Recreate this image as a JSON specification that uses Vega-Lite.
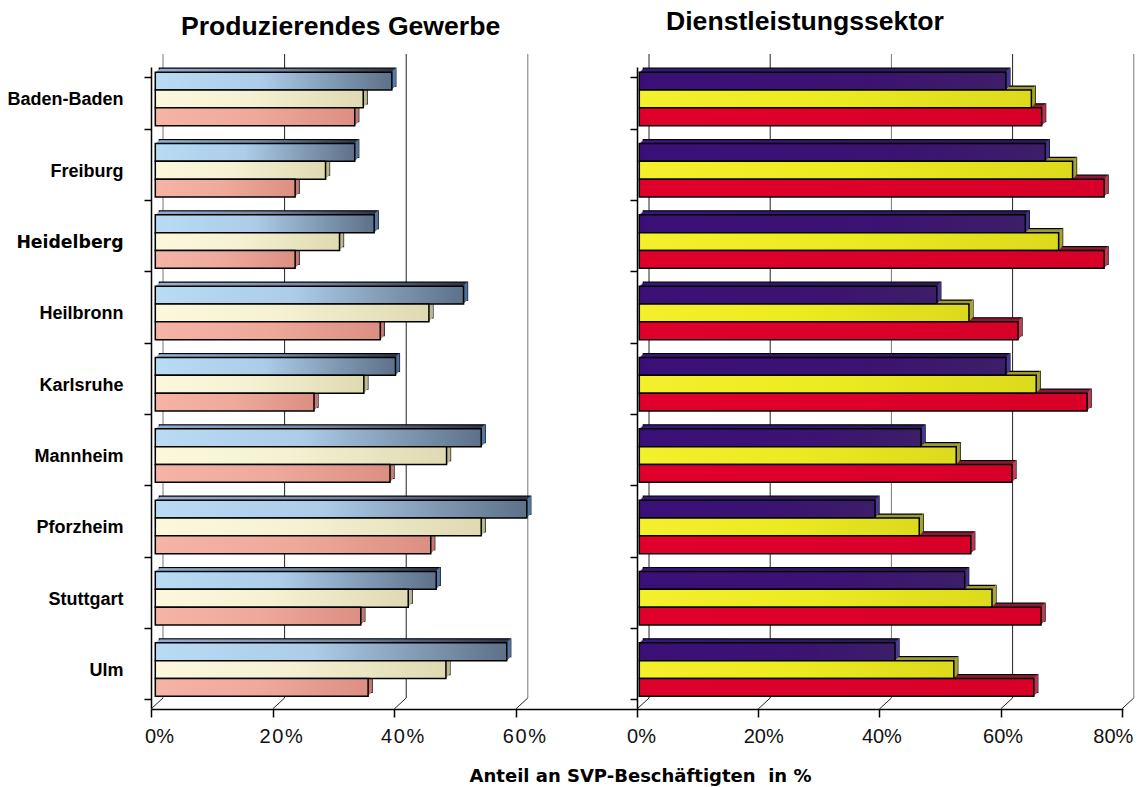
{
"$schema":"https://vega.github.io/schema/vega-lite/v6.json",
"background":"white",
"padding":{"left":6,"top":8,"right":5,"bottom":5},
"bounds":"flush",
"spacing":0,
"config":{"view":{"stroke":null},"font":"Liberation Sans"},
"datasets":{
"produzierend":[
{"stadt":"Baden-Baden","reihe":"A","zeile":"Baden-Baden A","anteil":38.9},{"stadt":"Baden-Baden","reihe":"B","zeile":"Baden-Baden B","anteil":34.2},{"stadt":"Baden-Baden","reihe":"C","zeile":"Baden-Baden C","anteil":32.8},
{"stadt":"Freiburg","reihe":"A","zeile":"Freiburg A","anteil":32.8},{"stadt":"Freiburg","reihe":"B","zeile":"Freiburg B","anteil":28.0},{"stadt":"Freiburg","reihe":"C","zeile":"Freiburg C","anteil":23.0},
{"stadt":"Heidelberg","reihe":"A","zeile":"Heidelberg A","anteil":36.0},{"stadt":"Heidelberg","reihe":"B","zeile":"Heidelberg B","anteil":30.3},{"stadt":"Heidelberg","reihe":"C","zeile":"Heidelberg C","anteil":23.0},
{"stadt":"Heilbronn","reihe":"A","zeile":"Heilbronn A","anteil":50.7},{"stadt":"Heilbronn","reihe":"B","zeile":"Heilbronn B","anteil":45.0},{"stadt":"Heilbronn","reihe":"C","zeile":"Heilbronn C","anteil":37.0},
{"stadt":"Karlsruhe","reihe":"A","zeile":"Karlsruhe A","anteil":39.5},{"stadt":"Karlsruhe","reihe":"B","zeile":"Karlsruhe B","anteil":34.3},{"stadt":"Karlsruhe","reihe":"C","zeile":"Karlsruhe C","anteil":26.1},
{"stadt":"Mannheim","reihe":"A","zeile":"Mannheim A","anteil":53.6},{"stadt":"Mannheim","reihe":"B","zeile":"Mannheim B","anteil":47.9},{"stadt":"Mannheim","reihe":"C","zeile":"Mannheim C","anteil":38.6},
{"stadt":"Pforzheim","reihe":"A","zeile":"Pforzheim A","anteil":61.1},{"stadt":"Pforzheim","reihe":"B","zeile":"Pforzheim B","anteil":53.6},{"stadt":"Pforzheim","reihe":"C","zeile":"Pforzheim C","anteil":45.3},
{"stadt":"Stuttgart","reihe":"A","zeile":"Stuttgart A","anteil":46.2},{"stadt":"Stuttgart","reihe":"B","zeile":"Stuttgart B","anteil":41.6},{"stadt":"Stuttgart","reihe":"C","zeile":"Stuttgart C","anteil":33.8},
{"stadt":"Ulm","reihe":"A","zeile":"Ulm A","anteil":57.8},{"stadt":"Ulm","reihe":"B","zeile":"Ulm B","anteil":47.8},{"stadt":"Ulm","reihe":"C","zeile":"Ulm C","anteil":35.0}],
"dienstleistung":[
{"stadt":"Baden-Baden","reihe":"A","zeile":"Baden-Baden A","anteil":60.5},{"stadt":"Baden-Baden","reihe":"B","zeile":"Baden-Baden B","anteil":64.7},{"stadt":"Baden-Baden","reihe":"C","zeile":"Baden-Baden C","anteil":66.4},
{"stadt":"Freiburg","reihe":"A","zeile":"Freiburg A","anteil":67.0},{"stadt":"Freiburg","reihe":"B","zeile":"Freiburg B","anteil":71.5},{"stadt":"Freiburg","reihe":"C","zeile":"Freiburg C","anteil":76.7},
{"stadt":"Heidelberg","reihe":"A","zeile":"Heidelberg A","anteil":63.7},{"stadt":"Heidelberg","reihe":"B","zeile":"Heidelberg B","anteil":69.2},{"stadt":"Heidelberg","reihe":"C","zeile":"Heidelberg C","anteil":76.7},
{"stadt":"Heilbronn","reihe":"A","zeile":"Heilbronn A","anteil":49.1},{"stadt":"Heilbronn","reihe":"B","zeile":"Heilbronn B","anteil":54.4},{"stadt":"Heilbronn","reihe":"C","zeile":"Heilbronn C","anteil":62.5},
{"stadt":"Karlsruhe","reihe":"A","zeile":"Karlsruhe A","anteil":60.5},{"stadt":"Karlsruhe","reihe":"B","zeile":"Karlsruhe B","anteil":65.5},{"stadt":"Karlsruhe","reihe":"C","zeile":"Karlsruhe C","anteil":73.9},
{"stadt":"Mannheim","reihe":"A","zeile":"Mannheim A","anteil":46.5},{"stadt":"Mannheim","reihe":"B","zeile":"Mannheim B","anteil":52.3},{"stadt":"Mannheim","reihe":"C","zeile":"Mannheim C","anteil":61.5},
{"stadt":"Pforzheim","reihe":"A","zeile":"Pforzheim A","anteil":38.9},{"stadt":"Pforzheim","reihe":"B","zeile":"Pforzheim B","anteil":46.2},{"stadt":"Pforzheim","reihe":"C","zeile":"Pforzheim C","anteil":54.7},
{"stadt":"Stuttgart","reihe":"A","zeile":"Stuttgart A","anteil":53.7},{"stadt":"Stuttgart","reihe":"B","zeile":"Stuttgart B","anteil":58.2},{"stadt":"Stuttgart","reihe":"C","zeile":"Stuttgart C","anteil":66.3},
{"stadt":"Ulm","reihe":"A","zeile":"Ulm A","anteil":42.2},{"stadt":"Ulm","reihe":"B","zeile":"Ulm B","anteil":51.9},{"stadt":"Ulm","reihe":"C","zeile":"Ulm C","anteil":65.1}],
"raster_links":[{"anteil":0},{"anteil":20},{"anteil":40},{"anteil":60}],
"raster_rechts":[{"anteil":0},{"anteil":20},{"anteil":40},{"anteil":60},{"anteil":80}]
},
"hconcat":[
{
"width":486,"height":642,
"title":{"text":"Produzierendes Gewerbe","anchor":"start","frame":"group","dx":30,"offset":13,"fontSize":26.6,"fontWeight":"bold","font":"Liberation Sans","color":"#000"},
"encoding":{
  "x":{"field":"anteil","type":"quantitative","scale":{"domain":[0,79.93],"nice":false},
   "axis":{"values":[0,20,40,60],"format":"d","labelExpr":"datum.value == 0 ? '0%' : datum.label[0] + '\u200a' + datum.label[1] + '\u200a%'","grid":false,"domainColor":"#000","domainWidth":1.5,"tickColor":"#000","tickWidth":1.5,"tickSize":8,"labelFontSize":20,"labelFont":"Liberation Sans","labelColor":"#111","labelPadding":9,"labelOffset":8,"labelFlush":false,"labelOverlap":false,
    "title":"Anteil an SVP-Beschäftigten\u00a0\u00a0in %","titleFont":"DejaVu Sans","titleFontWeight":"bold","titleFontSize":18,"titleColor":"#000","titleX":489,"titleY":58,"titleAnchor":"middle","titleAlign":"center"}}
},
"layer":[
{"data":{"name":"raster_links"},
 "encoding":{"x2":{"field":"anteil"},
  "stroke":{"condition":{"test":"datum.anteil == 0 || datum.anteil == 60","value":"#777"},"value":"#222"}},
 "layer":[
  {"mark":{"type":"rule","strokeWidth":1,"xOffset":12,"x2Offset":12,"yOffset":-11,"y2Offset":-13},
   "encoding":{"y":{"datum":0,"type":"quantitative","scale":{"domain":[0,1]},"axis":null},"y2":{"datum":1}}},
  {"mark":{"type":"rule","strokeWidth":1,"xOffset":0,"x2Offset":12,"yOffset":0,"y2Offset":-11},
   "encoding":{"y":{"datum":0,"type":"quantitative","axis":null},"y2":{"datum":0},"stroke":{"value":"#222"}}}
 ]},
{"data":{"name":"produzierend"},
 "mark":{"type":"bar","opacity":0},
 "encoding":{
  "y":{"field":"stadt","type":"nominal","scale":{"paddingInner":0.27,"paddingOuter":0.135},
   "axis":{"title":null,"grid":false,"tickBand":"extent","domainColor":"#000","domainWidth":1.5,"tickColor":"#000","tickWidth":1.5,"tickSize":7,"labelPadding":21,"labelOffset":-3,"labelColor":"#000","labelLimit":200,"labelFontWeight":"bold",
    "labelFont":{"condition":{"test":"datum.value == 'Heidelberg'","value":"DejaVu Sans"},"value":"Liberation Sans"},
    "labelFontSize":{"condition":{"test":"datum.value == 'Heidelberg'","value":17.3},"value":18}}}
 }},
{"data":{"name":"produzierend"},
 "encoding":{
  "y":{"field":"zeile","type":"nominal","axis":null,"scale":{"paddingInner":0,"paddingOuter":0,"domain":["Baden-Baden A","Baden-Baden B","Baden-Baden C","Baden-Baden -","Freiburg A","Freiburg B","Freiburg C","Freiburg -","Heidelberg A","Heidelberg B","Heidelberg C","Heidelberg -","Heilbronn A","Heilbronn B","Heilbronn C","Heilbronn -","Karlsruhe A","Karlsruhe B","Karlsruhe C","Karlsruhe -","Mannheim A","Mannheim B","Mannheim C","Mannheim -","Pforzheim A","Pforzheim B","Pforzheim C","Pforzheim -","Stuttgart A","Stuttgart B","Stuttgart C","Stuttgart -","Ulm A","Ulm B","Ulm C","Ulm -"]}}
 },
 "layer":[
  {"encoding":{"fill":{"condition":[
     {"test":"datum.reihe == 'A'","value":{"x1":0,"y1":0,"x2":1,"y2":0,"gradient":"linear","stops":[{"offset":0,"color":"#8eb0d2"},{"offset":0.5,"color":"#6f8aa8"},{"offset":1,"color":"#2a3448"}]}},
     {"test":"datum.reihe == 'B'","value":"#bdb994"}],"value":"#b97a70"}},
   "layer":[
    {"mark":{"type":"bar","stroke":"#000","strokeWidth":1.2,"xOffset":8.3,"x2Offset":8.3,"yOffset":1.2,"y2Offset":1.2}},
    {"mark":{"type":"bar","xOffset":7.3,"x2Offset":7.3,"yOffset":2.2,"y2Offset":2.2}},
    {"mark":{"type":"bar","xOffset":6.3,"x2Offset":6.3,"yOffset":3.2,"y2Offset":3.2}},
    {"mark":{"type":"bar","xOffset":5.3,"x2Offset":5.3,"yOffset":4.2,"y2Offset":4.2}}
   ]},
  {"encoding":{"x2":{"field":"anteil"},"fill":{"condition":[
     {"test":"datum.reihe == 'A'","value":"#5f86b4"},
     {"test":"datum.reihe == 'B'","value":"#bdb994"}],"value":"#c47c74"}},
   "layer":[
    {"mark":{"type":"rect","xOffset":4.3,"x2Offset":5.3,"yOffset":4.2,"y2Offset":4.2}},
    {"mark":{"type":"rect","xOffset":5.3,"x2Offset":6.3,"yOffset":3.2,"y2Offset":3.2}},
    {"mark":{"type":"rect","xOffset":6.3,"x2Offset":7.3,"yOffset":2.2,"y2Offset":2.2}},
    {"mark":{"type":"rect","xOffset":7.3,"x2Offset":8.3,"yOffset":1.2,"y2Offset":1.2}}
   ]},
  {"mark":{"type":"bar","stroke":"#000","strokeWidth":1.5,"xOffset":4.3,"x2Offset":4.3,"yOffset":5.2,"y2Offset":5.2},
   "encoding":{"fill":{"condition":[
     {"test":"datum.reihe == 'A'","value":{"x1":0,"y1":0,"x2":1,"y2":0,"gradient":"linear","stops":[{"offset":0,"color":"#b9dbf3"},{"offset":0.45,"color":"#accce8"},{"offset":1,"color":"#5d7189"}]}},
     {"test":"datum.reihe == 'B'","value":{"x1":0,"y1":0,"x2":1,"y2":0,"gradient":"linear","stops":[{"offset":0,"color":"#fdf8dc"},{"offset":0.45,"color":"#f5f1d2"},{"offset":1,"color":"#dfdab2"}]}}],
     "value":{"x1":0,"y1":0,"x2":1,"y2":0,"gradient":"linear","stops":[{"offset":0,"color":"#f6b4a6"},{"offset":0.5,"color":"#eea99b"},{"offset":1,"color":"#db8f82"}]}}}}
 ]}
],
"resolve":{"scale":{"y":"independent"},"axis":{"y":"independent"}}
},
{
"width":486,"height":642,
"title":{"text":"Dienstleistungssektor","anchor":"start","frame":"group","dx":29,"offset":18,"fontSize":26.6,"fontWeight":"bold","font":"Liberation Sans","color":"#000"},
"encoding":{
  "x":{"field":"anteil","type":"quantitative","scale":{"domain":[0,80.2],"nice":false},
   "axis":{"values":[0,20,40,60,80],"format":"d","labelExpr":"datum.label + '%'","title":null,"grid":false,"domainColor":"#000","domainWidth":1.5,"tickColor":"#000","tickWidth":1.5,"tickSize":8,"labelFontSize":20,"labelFont":"Liberation Sans","labelColor":"#111","labelPadding":9,"labelFlush":false,"labelOverlap":false,
    "labelOffset":{"condition":[{"test":"datum.value == 0","value":4},{"test":"datum.value == 20","value":5},{"test":"datum.value == 40","value":2},{"test":"datum.value == 60","value":2}],"value":-9}}}
},
"layer":[
{"data":{"name":"raster_rechts"},
 "encoding":{"x2":{"field":"anteil"},
  "stroke":{"condition":{"test":"datum.anteil == 40 || datum.anteil == 80","value":"#777"},"value":"#222"}},
 "layer":[
  {"mark":{"type":"rule","strokeWidth":1,"xOffset":12,"x2Offset":12,"yOffset":-11,"y2Offset":-13},
   "encoding":{"y":{"datum":0,"type":"quantitative","scale":{"domain":[0,1]},"axis":null},"y2":{"datum":1}}},
  {"mark":{"type":"rule","strokeWidth":1,"xOffset":0,"x2Offset":12,"yOffset":0,"y2Offset":-11},
   "encoding":{"y":{"datum":0,"type":"quantitative","axis":null},"y2":{"datum":0},"stroke":{"value":"#222"}}}
 ]},
{"data":{"name":"dienstleistung"},
 "mark":{"type":"bar","opacity":0},
 "encoding":{
  "y":{"field":"stadt","type":"nominal","scale":{"paddingInner":0.27,"paddingOuter":0.135},
   "axis":{"title":null,"labels":false,"grid":false,"tickBand":"extent","domainColor":"#000","domainWidth":1.5,"tickColor":"#000","tickWidth":1.5,"tickSize":7}}
 }},
{"data":{"name":"dienstleistung"},
 "encoding":{
  "y":{"field":"zeile","type":"nominal","axis":null,"scale":{"paddingInner":0,"paddingOuter":0,"domain":["Baden-Baden A","Baden-Baden B","Baden-Baden C","Baden-Baden -","Freiburg A","Freiburg B","Freiburg C","Freiburg -","Heidelberg A","Heidelberg B","Heidelberg C","Heidelberg -","Heilbronn A","Heilbronn B","Heilbronn C","Heilbronn -","Karlsruhe A","Karlsruhe B","Karlsruhe C","Karlsruhe -","Mannheim A","Mannheim B","Mannheim C","Mannheim -","Pforzheim A","Pforzheim B","Pforzheim C","Pforzheim -","Stuttgart A","Stuttgart B","Stuttgart C","Stuttgart -","Ulm A","Ulm B","Ulm C","Ulm -"]}}
 },
 "layer":[
  {"encoding":{"fill":{"condition":[
     {"test":"datum.reihe == 'A'","value":{"x1":0,"y1":0,"x2":1,"y2":0,"gradient":"linear","stops":[{"offset":0,"color":"#3c1480"},{"offset":1,"color":"#2c1a58"}]}},
     {"test":"datum.reihe == 'B'","value":"#9c9a2c"}],"value":"#8e1a34"}},
   "layer":[
    {"mark":{"type":"bar","stroke":"#000","strokeWidth":1.2,"xOffset":6.3,"x2Offset":6.3,"yOffset":1.2,"y2Offset":1.2}},
    {"mark":{"type":"bar","xOffset":5.3,"x2Offset":5.3,"yOffset":2.2,"y2Offset":2.2}},
    {"mark":{"type":"bar","xOffset":4.3,"x2Offset":4.3,"yOffset":3.2,"y2Offset":3.2}},
    {"mark":{"type":"bar","xOffset":3.3,"x2Offset":3.3,"yOffset":4.2,"y2Offset":4.2}}
   ]},
  {"encoding":{"x2":{"field":"anteil"},"fill":{"condition":[
     {"test":"datum.reihe == 'A'","value":"#4a3a9c"},
     {"test":"datum.reihe == 'B'","value":"#aaa834"}],"value":"#c43e58"}},
   "layer":[
    {"mark":{"type":"rect","xOffset":2.3,"x2Offset":3.3,"yOffset":4.2,"y2Offset":4.2}},
    {"mark":{"type":"rect","xOffset":3.3,"x2Offset":4.3,"yOffset":3.2,"y2Offset":3.2}},
    {"mark":{"type":"rect","xOffset":4.3,"x2Offset":5.3,"yOffset":2.2,"y2Offset":2.2}},
    {"mark":{"type":"rect","xOffset":5.3,"x2Offset":6.3,"yOffset":1.2,"y2Offset":1.2}}
   ]},
  {"mark":{"type":"bar","stroke":"#000","strokeWidth":1.5,"xOffset":2.3,"x2Offset":2.3,"yOffset":5.2,"y2Offset":5.2},
   "encoding":{"fill":{"condition":[
     {"test":"datum.reihe == 'A'","value":{"x1":0,"y1":0,"x2":1,"y2":0,"gradient":"linear","stops":[{"offset":0,"color":"#3a1078"},{"offset":0.6,"color":"#3c1272"},{"offset":1,"color":"#3c1e68"}]}},
     {"test":"datum.reihe == 'B'","value":{"x1":0,"y1":0,"x2":1,"y2":0,"gradient":"linear","stops":[{"offset":0,"color":"#f4f02c"},{"offset":0.5,"color":"#ecea20"},{"offset":1,"color":"#dcda1c"}]}}],
     "value":{"x1":0,"y1":0,"x2":1,"y2":0,"gradient":"linear","stops":[{"offset":0,"color":"#e0002c"},{"offset":1,"color":"#d80028"}]}}}}
 ]}
],
"resolve":{"scale":{"y":"independent"},"axis":{"y":"independent"}}
}
]
}
